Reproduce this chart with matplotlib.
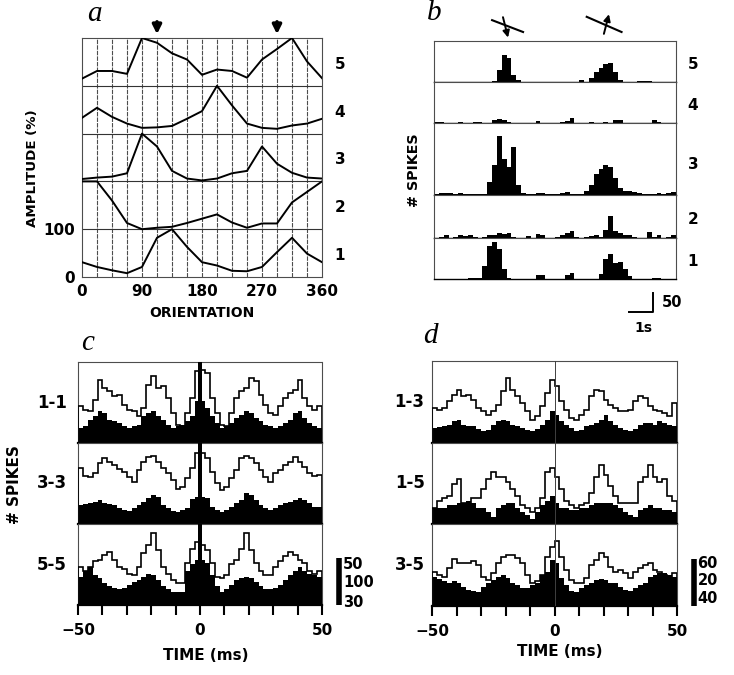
import numpy as np
import matplotlib.pyplot as plt

plt.rcParams['font.family'] = ['DejaVu Sans']
plt.rcParams['font.weight'] = 'bold'

# ---- a: orientation tuning of 5 sites (% of max)
orientation = [0, 22.5, 45, 67.5, 90, 112.5, 135, 157.5, 180, 202.5, 225,
               247.5, 270, 292.5, 315, 337.5, 360]
tuning_site1 = [31, 21, 14, 8, 21, 82, 100, 63, 31, 24, 13, 12, 21, 52, 82, 49, 31]
tuning_site2 = [100, 100, 60, 13, 0, 3, 5, 13, 22, 31, 14, 3, 12, 12, 56, 78, 100]
tuning_site3 = [5, 8, 10, 17, 100, 73, 22, 6, 2, 6, 17, 22, 73, 37, 18, 8, 6]
tuning_site4 = [33, 54, 35, 21, 12, 13, 16, 31, 47, 100, 59, 21, 12, 10, 17, 21, 31]
tuning_site5 = [15, 31, 31, 25, 100, 90, 68, 55, 23, 34, 31, 17, 55, 77, 100, 51, 16]
stim_orientation = [112.5, 292.5]

# ---- b: peri-stimulus time histograms, 0.2 s bins over 10 s
psth_site5 = [1, 1, 0, 1, 0, 1, 1, 0, 1, 1, 0, 1, 2, 33, 74, 65, 20, 6, 1, 1, 0, 1, 1, 0, 1,
              1, 0, 1, 1, 1, 6, 1, 11, 28, 39, 48, 50, 28, 6, 1, 1, 1, 2, 4, 2, 1, 1, 1, 1, 1]
psth_site4 = [2, 2, 1, 1, 1, 3, 1, 1, 3, 2, 1, 1, 9, 11, 9, 4, 1, 1, 1, 1, 1, 6, 1, 1, 1,
              1, 2, 6, 13, 1, 1, 1, 4, 1, 1, 3, 1, 9, 7, 1, 1, 1, 1, 1, 1, 7, 4, 1, 1, 1]
psth_site3 = [3, 5, 6, 5, 3, 5, 4, 2, 3, 3, 4, 36, 80, 160, 97, 75, 130, 27, 5, 4, 3, 5, 6, 3, 2,
              3, 5, 8, 4, 3, 4, 10, 27, 58, 71, 82, 75, 45, 18, 12, 11, 7, 5, 3, 3, 2, 5, 3, 6, 7]
psth_site2 = [1, 2, 9, 1, 2, 7, 5, 9, 2, 1, 2, 8, 9, 14, 11, 14, 3, 1, 1, 5, 1, 11, 9, 1, 1,
              2, 8, 14, 18, 4, 1, 3, 6, 7, 3, 22, 60, 18, 14, 9, 7, 2, 1, 1, 16, 3, 8, 1, 4, 8]
psth_site1 = [1, 1, 1, 1, 1, 1, 1, 2, 3, 2, 36, 89, 100, 80, 27, 4, 1, 1, 1, 1, 1, 10, 12, 1, 1,
              1, 1, 10, 17, 1, 1, 1, 1, 1, 14, 54, 67, 42, 45, 26, 8, 1, 1, 1, 1, 3, 3, 1, 1, 1]

# ---- c: auto-correlograms, 2 ms bins (open = correlogram, filled = shift predictor)
acg_11_open = [39, 35, 34, 46, 67, 59, 55, 50, 51, 40, 35, 34, 29, 37, 62, 71, 59, 61, 48, 32, 19, 18, 32, 48, 77,
               78, 74, 48, 32, 19, 18, 32, 48, 55, 59, 69, 66, 51, 40, 32, 30, 39, 48, 53, 56, 67, 48, 39, 35, 39]
acg_11_fill = [16, 18, 24, 29, 34, 32, 24, 23, 21, 18, 16, 18, 19, 29, 32, 34, 29, 24, 19, 16, 18, 19, 23, 29, 45,
               45, 37, 29, 21, 16, 18, 21, 27, 30, 34, 32, 27, 23, 19, 18, 16, 18, 21, 24, 32, 34, 27, 21, 18, 16]
acg_33_open = [119, 102, 100, 109, 130, 141, 132, 126, 117, 111, 100, 89, 115, 132, 143, 145, 132, 119, 109, 94,
               75, 79, 98, 119, 151, 151, 141, 111, 87, 72, 79, 98, 115, 141, 145, 141, 130, 115, 100, 89,
               109, 115, 126, 132, 143, 132, 121, 109, 102, 104]
acg_33_fill = [40, 43, 45, 47, 51, 45, 43, 40, 34, 30, 28, 34, 40, 47, 55, 62, 58, 40, 34, 28, 26, 30, 34, 53, 58,
               58, 55, 36, 30, 26, 30, 36, 45, 51, 66, 62, 51, 40, 34, 30, 34, 40, 45, 47, 51, 55, 51, 45, 36, 36]
acg_55_open = [24, 22, 24, 28, 29, 32, 34, 29, 24, 23, 20, 19, 24, 33, 38, 46, 35, 24, 20, 16, 14, 14, 27, 36, 40,
               38, 35, 27, 18, 17, 19, 26, 29, 36, 46, 35, 27, 22, 19, 19, 24, 28, 31, 34, 32, 29, 27, 22, 20, 22]
acg_55_fill = [18, 22, 24, 19, 17, 14, 12, 11, 10, 11, 13, 15, 16, 18, 20, 19, 16, 12, 10, 8, 8, 8, 22, 26, 29,
               29, 27, 19, 12, 8, 10, 13, 16, 17, 18, 17, 15, 12, 10, 10, 11, 13, 16, 19, 22, 24, 22, 20, 19, 18]
acg_zero_lag = [400, 800, 250]  # off-scale central peaks
acg_labels = ['1-1', '3-3', '5-5']
acg_scale = [50, 100, 30]

# ---- d: cross-correlograms, 2 ms bins
ccg_13_open = [45, 42, 45, 54, 61, 68, 60, 61, 55, 45, 41, 36, 41, 49, 67, 83, 68, 60, 51, 41, 29, 35, 47, 64, 81,
               73, 54, 42, 32, 29, 36, 42, 60, 68, 67, 55, 49, 45, 41, 41, 42, 54, 60, 58, 47, 42, 41, 38, 35, 51]
ccg_13_fill = [19, 20, 22, 23, 28, 29, 23, 22, 22, 18, 15, 17, 23, 28, 29, 28, 23, 22, 19, 17, 15, 18, 23, 29, 41,
               36, 28, 23, 19, 15, 17, 22, 23, 26, 29, 36, 28, 23, 19, 17, 15, 18, 23, 26, 26, 23, 28, 26, 23, 22]
ccg_15_open = [7, 10, 11, 12, 17, 19, 9, 9, 11, 11, 15, 19, 22, 20, 20, 18, 15, 12, 8, 7, 5, 7, 11, 22, 24,
               20, 15, 10, 8, 7, 8, 9, 13, 20, 25, 21, 16, 12, 9, 9, 9, 9, 18, 20, 25, 20, 18, 19, 12, 10]
ccg_15_fill = [7, 7, 7, 8, 8, 9, 9, 10, 9, 7, 7, 5, 3, 7, 8, 9, 9, 7, 5, 4, 2, 5, 8, 10, 12,
               9, 7, 7, 6, 6, 7, 7, 8, 9, 9, 9, 9, 8, 7, 5, 4, 3, 6, 7, 8, 7, 7, 6, 6, 5]
ccg_35_open = [29, 26, 25, 32, 40, 37, 37, 37, 38, 35, 25, 22, 28, 37, 42, 43, 43, 41, 37, 26, 20, 21, 26, 42, 50,
               55, 42, 31, 22, 20, 20, 24, 35, 39, 45, 42, 33, 29, 31, 28, 24, 29, 32, 35, 37, 31, 29, 26, 25, 28]
ccg_35_fill = [25, 23, 21, 20, 21, 20, 16, 14, 13, 12, 16, 20, 22, 25, 26, 24, 20, 18, 15, 15, 18, 20, 26, 29, 39,
               37, 24, 18, 13, 12, 15, 18, 20, 22, 23, 22, 20, 20, 16, 14, 13, 15, 18, 20, 25, 26, 28, 28, 26, 25]
ccg_labels = ['1-3', '1-5', '3-5']
ccg_scale = [60, 20, 40]

W, H = 734, 675
fig = plt.figure(figsize=(W / 100, H / 100), dpi=100)
frame_kw = dict(color='0.3', linewidth=0.8, linestyle=(0, (4, 1)))


def px_axes(x0, y0, x1, y1):
    # axes placed by pixel box (top-left origin)
    return fig.add_axes([x0 / W, 1 - y1 / H, (x1 - x0) / W, (y1 - y0) / H])


def style_frame(ax, bottom_lw=1.0):
    for side in ['top', 'left', 'right']:
        ax.spines[side].set_color('0.3')
        ax.spines[side].set_linewidth(0.8)
        ax.spines[side].set_linestyle((0, (4, 1)))
    ax.spines['bottom'].set_color('k')
    ax.spines['bottom'].set_linewidth(bottom_lw)


def panel_letter(x, y, s):
    fig.text(x / W, 1 - y / H, s, family=['Liberation Serif', 'DejaVu Serif'],
             style='italic', fontweight='normal', fontsize=21, ha='center', va='center')


# ---------------- panel a
ax = px_axes(82, 38, 322, 277)
tuning = [tuning_site1, tuning_site2, tuning_site3, tuning_site4, tuning_site5]
for i, curve in enumerate(tuning):
    ax.plot(orientation, np.array(curve) + 100 * i, color='k', lw=1.4, zorder=3)
    ax.text(1.075, (100 * i + 45) / 500, str(i + 1), transform=ax.transAxes,
            ha='center', va='center', fontsize=11)
for x in orientation[1:-1]:
    ax.axvline(x, **frame_kw, zorder=1)
for y in [100, 200, 300, 400]:
    ax.axhline(y, color='0.2', lw=0.8, zorder=1)
for side in ax.spines:
    ax.spines[side].set_color('0.3')
    ax.spines[side].set_linestyle((0, (4, 1)))
    ax.spines[side].set_linewidth(0.8)
ax.set_xlim(0, 360)
ax.set_ylim(0, 500)
ax.set_xticks([0, 90, 180, 270, 360])
ax.set_yticks([0, 100])
ax.tick_params(length=0, labelsize=11, pad=5)
for x in stim_orientation:
    ax.annotate('', xy=(x, 508), xytext=(x, 534), annotation_clip=False,
                arrowprops=dict(arrowstyle='-|>', color='k', lw=2.5,
                                mutation_scale=13, shrinkA=0, shrinkB=0))
ax.text(0.5, -0.15, 'ORIENTATION', transform=ax.transAxes, ha='center',
        va='center', fontsize=10)
ax.text(-0.205, 0.456, 'AMPLITUDE (%)', transform=ax.transAxes, ha='center',
        va='center', rotation=90, fontsize=9.6)
panel_letter(94, 14, 'a')

# ---------------- panel b
spikes_per_px = 2.7
b_rows = [41, 82, 123, 195, 238, 279]
psth = [psth_site5, psth_site4, psth_site3, psth_site2, psth_site1]
psth_edges = np.linspace(0, 10, 51)
b_axes = []
for r, counts in enumerate(psth):
    ax = px_axes(434, b_rows[r], 676, b_rows[r + 1])
    ax.stairs(counts, psth_edges, fill=True, color='k')
    ax.set_xlim(0, 10)
    ax.set_ylim(0, (b_rows[r + 1] - b_rows[r]) * spikes_per_px)
    ax.set_xticks([])
    ax.set_yticks([])
    style_frame(ax, bottom_lw=1.0)
    ax.text(1.07, 0.43, str(5 - r), transform=ax.transAxes, ha='center',
            va='center', fontsize=11)
    b_axes.append(ax)

# stimulus bars above the histograms
top = b_axes[0]
top.plot([2.40, 3.68], [167, 135], color='k', lw=1.5, clip_on=False)
top.annotate('', xy=(3.06, 120), xytext=(2.85, 175), annotation_clip=False,
             arrowprops=dict(arrowstyle='-|>', color='k', lw=1.4, mutation_scale=10,
                             shrinkA=0, shrinkB=0))
top.plot([6.31, 7.75], [176, 135], color='k', lw=1.5, clip_on=False)
top.annotate('', xy=(7.23, 183), xytext=(7.02, 130), annotation_clip=False,
             arrowprops=dict(arrowstyle='-|>', color='k', lw=1.4, mutation_scale=10,
                             shrinkA=0, shrinkB=0))

# scale bar: 50 spikes, 1 s
bot = b_axes[-1]
bot.plot([9.05, 9.05, 8.05], [-39, -89, -89], color='k', lw=1.4, clip_on=False)
bot.text(9.4, -64, '50', ha='left', va='center', fontsize=10.5)
bot.text(8.64, -132, '1s', ha='center', va='center', fontsize=10)
fig.text(414 / W, 1 - 170 / H, '# SPIKES', rotation=90, ha='center',
         va='center', fontsize=10.3)
panel_letter(434, 13, 'b')

# ---------------- panels c and d
lag_edges = np.linspace(-50, 50, 51)


def correlogram_panel(x0, x1, rows, opens, fills, labels, scales, label_x,
                      zero_lag=None, center_line=False):
    axes = []
    for r in range(3):
        ax = px_axes(x0, rows[r], x1, rows[r + 1])
        ax.stairs(fills[r], lag_edges, fill=True, color='k', zorder=2)
        ax.stairs(opens[r], lag_edges, color='k', lw=1.2, zorder=3)
        if zero_lag is not None:
            ax.bar(0, zero_lag[r], width=1.6, color='k', zorder=4)
        if center_line:
            ax.axvline(0, color='0.25', lw=0.7, zorder=4)
        ax.set_xlim(-50, 50)
        ax.set_ylim(0, scales[r] * (rows[r + 1] - rows[r]) / 47)
        ax.set_yticks([])
        ax.set_xticks([])
        style_frame(ax, bottom_lw=1.6)
        ax.text(label_x, 0.5, labels[r], transform=ax.transAxes, ha='right',
                va='center', fontsize=12)
        axes.append(ax)
    ax = axes[-1]
    ax.set_xticks([-50, 0, 50])
    ax.set_xticks(np.arange(-50, 51, 10), minor=True)
    ax.tick_params(which='both', direction='out', length=7, width=1.5,
                   labelsize=11, pad=6)
    return axes


c_axes = correlogram_panel(78, 322, [362, 443, 524, 605],
                           [acg_11_open, acg_33_open, acg_55_open],
                           [acg_11_fill, acg_33_fill, acg_55_fill],
                           acg_labels, acg_scale, -0.045, zero_lag=acg_zero_lag)
d_axes = correlogram_panel(432, 677, [361, 443, 524, 606],
                           [ccg_13_open, ccg_15_open, ccg_35_open],
                           [ccg_13_fill, ccg_15_fill, ccg_35_fill],
                           ccg_labels, ccg_scale, -0.03, center_line=True)

# vertical scale bars, one length labelled for each row
ax = c_axes[-1]
ax.plot([56.8, 56.8], [0, 30], color='k', lw=4, clip_on=False, solid_capstyle='butt')
for s, y in zip(acg_scale, [25.7, 14.1, 1.9]):
    ax.text(58.6, y, str(s), ha='left', va='center', fontsize=10.5)
ax = d_axes[-1]
ax.plot([57.1, 57.1], [0, 40], color='k', lw=4, clip_on=False, solid_capstyle='butt')
for s, y in zip(ccg_scale, [35.9, 21.4, 6.0]):
    ax.text(58.4, y, str(s), ha='left', va='center', fontsize=10.5)

fig.text(206 / W, 1 - 655 / H, 'TIME (ms)', ha='center', va='center', fontsize=11)
fig.text(560 / W, 1 - 652 / H, 'TIME (ms)', ha='center', va='center', fontsize=11)
fig.text(15 / W, 1 - 485 / H, '# SPIKES', rotation=90, ha='center', va='center',
         fontsize=11)
panel_letter(88, 343, 'c')
panel_letter(430, 336, 'd')

fig.savefig('out.png', dpi=100)
